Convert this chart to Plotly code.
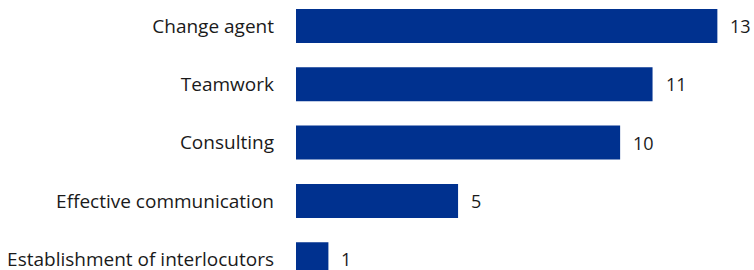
import plotly.graph_objects as go

categories = ["Change agent", "Teamwork", "Consulting", "Effective communication", "Establishment of interlocutors"]
values = [13, 11, 10, 5, 1]

positions = list(range(len(categories)))
bar_color = "#00318f"
font_family = "Open Sans, Noto Sans, sans-serif"
text_color = "#1a1a1a"

fig = go.Figure()
fig.add_trace(go.Bar(
    x=values, y=positions, orientation="h",
    marker=dict(color=bar_color, line=dict(width=0)),
    width=0.583,
    hoverinfo="skip",
))

for v, p in zip(values, positions):
    fig.add_annotation(x=v, y=p, text=str(v), showarrow=False,
                       xanchor="left", xshift=11,
                       font=dict(family=font_family, size=18, color=text_color))

fig.update_layout(
    width=754, height=270,
    margin=dict(l=296, r=0, t=0, b=0),
    paper_bgcolor="white", plot_bgcolor="white",
    showlegend=False,
    font=dict(family=font_family, size=19, color=text_color),
    xaxis=dict(range=[0, 14.13], visible=False, fixedrange=True),
    yaxis=dict(range=[4.185, -0.446], tickvals=positions, ticktext=categories,
               showgrid=False, zeroline=False, showline=False, ticks="",
               ticklabelstandoff=21, fixedrange=True, automargin=False,
               ticklabeloverflow="allow",
               tickfont=dict(family=font_family, size=19, color=text_color)),
)

fig.write_html("out.html", config={"displayModeBar": False, "staticPlot": True},
               post_script="document.body.style.margin='0';document.body.style.overflow='hidden';")
